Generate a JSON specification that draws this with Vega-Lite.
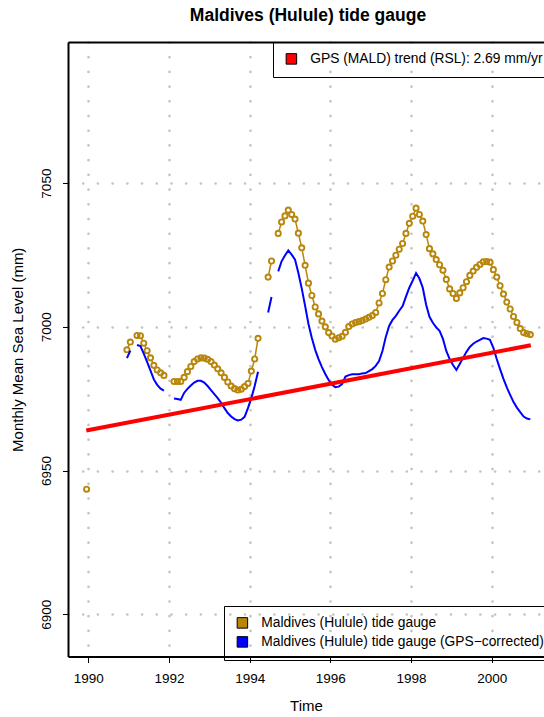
{
  "$schema": "https://vega.github.io/schema/vega-lite/v6.json",
  "width": 476,
  "height": 614.5,
  "autosize": {"type": "none"},
  "padding": {"left": 68, "top": 42, "right": 0, "bottom": 60.5},
  "background": "white",
  "title": {"text": "Maldives (Hulule) tide gauge", "font": "Liberation Sans", "fontSize": 17.5, "fontWeight": "bold", "color": "black", "anchor": "middle", "baseline": "alphabetic", "offset": 3, "dx": 2},
  "config": {
    "view": {"stroke": null},
    "axis": {"labelFont": "Liberation Sans", "titleFont": "Liberation Sans", "labelColor": "black", "titleColor": "black", "labelFontSize": 13.5, "titleFontSize": 15, "titleFontWeight": "normal", "domainColor": "black", "domainWidth": 2, "tickColor": "black", "tickWidth": 1, "gridColor": "#c4c4c4", "gridDash": [0.01, 14.7], "gridCap": "round", "gridWidth": 2.7, "labelOverlap": false, "labelFlush": false},
    "axisX": {"tickSize": 6, "labelPadding": 20.3, "labelBaseline": "alphabetic", "titleY": 53.5, "titleBaseline": "alphabetic"},
    "axisY": {"tickSize": 5.5, "labelAngle": 270, "labelAlign": "center", "labelBaseline": "alphabetic", "labelPadding": 12, "titleAngle": 270, "titleX": -45.5, "titleY": 307.25, "titleAlign": "center", "titleBaseline": "alphabetic"},
    "legend": {"orient": "none", "title": null, "symbolType": "square", "symbolSize": 110, "symbolStrokeColor": "black", "symbolStrokeWidth": 1, "symbolOffset": 1.5, "symbolOpacity": 1, "labelFont": "Liberation Sans", "labelFontSize": 13.8, "labelColor": "black", "labelOffset": 12, "padding": 10, "strokeColor": "black", "rowPadding": 3, "labelLimit": 500}
  },
  "datasets": {
    "ts": [
      {"t": 1989.958, "g": 6943.5, "b": null},
      {"t": 1990.458, "g": null, "b": null},
      {"t": 1990.958, "g": 6992.0, "b": 6989.1},
      {"t": 1991.042, "g": 6994.7, "b": 6991.7},
      {"t": 1991.125, "g": null, "b": null},
      {"t": 1991.208, "g": 6997.0, "b": 6993.7},
      {"t": 1991.292, "g": 6996.9, "b": 6993.3},
      {"t": 1991.375, "g": 6994.3, "b": 6990.7},
      {"t": 1991.458, "g": 6991.7, "b": 6987.8},
      {"t": 1991.542, "g": 6989.2, "b": 6984.8},
      {"t": 1991.625, "g": 6986.6, "b": 6981.7},
      {"t": 1991.708, "g": 6985.0, "b": 6979.8},
      {"t": 1991.792, "g": 6984.0, "b": 6978.5},
      {"t": 1991.875, "g": 6983.1, "b": 6977.8},
      {"t": 1991.958, "g": null, "b": null},
      {"t": 1992.042, "g": null, "b": null},
      {"t": 1992.125, "g": 6981.0, "b": 6975.1},
      {"t": 1992.208, "g": 6981.0, "b": 6974.9},
      {"t": 1992.292, "g": 6981.0, "b": 6974.6},
      {"t": 1992.375, "g": 6982.4, "b": 6977.0},
      {"t": 1992.458, "g": 6984.4, "b": 6978.4},
      {"t": 1992.542, "g": 6986.2, "b": 6979.6},
      {"t": 1992.625, "g": 6987.9, "b": 6980.6},
      {"t": 1992.708, "g": 6988.8, "b": 6981.2},
      {"t": 1992.792, "g": 6989.2, "b": 6981.2},
      {"t": 1992.875, "g": 6989.1, "b": 6980.6},
      {"t": 1992.958, "g": 6988.7, "b": 6979.4},
      {"t": 1993.042, "g": 6987.9, "b": 6978.0},
      {"t": 1993.125, "g": 6986.7, "b": 6976.6},
      {"t": 1993.208, "g": 6985.4, "b": 6975.2},
      {"t": 1993.292, "g": 6984.0, "b": 6973.6},
      {"t": 1993.375, "g": 6982.4, "b": 6971.7},
      {"t": 1993.458, "g": 6980.8, "b": 6970.0},
      {"t": 1993.542, "g": 6979.4, "b": 6968.8},
      {"t": 1993.625, "g": 6978.5, "b": 6967.9},
      {"t": 1993.708, "g": 6978.0, "b": 6967.4},
      {"t": 1993.792, "g": 6978.3, "b": 6967.7},
      {"t": 1993.875, "g": 6979.2, "b": 6968.7},
      {"t": 1993.958, "g": 6980.3, "b": 6971.7},
      {"t": 1994.042, "g": 6984.6, "b": 6975.2},
      {"t": 1994.125, "g": 6988.8, "b": 6979.4},
      {"t": 1994.208, "g": 6996.0, "b": 6984.4},
      {"t": 1994.292, "g": null, "b": null},
      {"t": 1994.375, "g": null, "b": null},
      {"t": 1994.458, "g": 7017.3, "b": 7005.0},
      {"t": 1994.542, "g": 7022.9, "b": 7010.4},
      {"t": 1994.625, "g": null, "b": null},
      {"t": 1994.708, "g": 7032.5, "b": 7019.3},
      {"t": 1994.792, "g": 7036.5, "b": 7022.8},
      {"t": 1994.875, "g": 7038.6, "b": 7024.8},
      {"t": 1994.958, "g": 7040.6, "b": 7026.6},
      {"t": 1995.042, "g": 7039.1, "b": 7025.1},
      {"t": 1995.125, "g": 7037.5, "b": 7023.4},
      {"t": 1995.208, "g": 7032.6, "b": 7018.7},
      {"t": 1995.292, "g": 7027.5, "b": 7013.3},
      {"t": 1995.375, "g": 7021.4, "b": 7007.3},
      {"t": 1995.458, "g": 7015.2, "b": 7001.0},
      {"t": 1995.542, "g": 7010.9, "b": 6996.1},
      {"t": 1995.625, "g": 7006.9, "b": 6992.0},
      {"t": 1995.708, "g": 7004.5, "b": 6988.8},
      {"t": 1995.792, "g": 7002.0, "b": 6986.0},
      {"t": 1995.875, "g": 7000.0, "b": 6983.6},
      {"t": 1995.958, "g": 6998.0, "b": 6981.5},
      {"t": 1996.042, "g": 6996.8, "b": 6979.8},
      {"t": 1996.125, "g": 6995.7, "b": 6979.0},
      {"t": 1996.208, "g": 6996.2, "b": 6979.2},
      {"t": 1996.292, "g": 6996.7, "b": 6980.1},
      {"t": 1996.375, "g": 6998.1, "b": 6982.7},
      {"t": 1996.458, "g": 7000.1, "b": 6983.2},
      {"t": 1996.542, "g": 7001.0, "b": 6983.5},
      {"t": 1996.625, "g": 7001.5, "b": 6983.5},
      {"t": 1996.708, "g": 7001.8, "b": 6983.5},
      {"t": 1996.792, "g": 7002.2, "b": 6983.8},
      {"t": 1996.875, "g": 7002.7, "b": 6983.9},
      {"t": 1996.958, "g": 7003.3, "b": 6984.6},
      {"t": 1997.042, "g": 7003.9, "b": 6985.3},
      {"t": 1997.125, "g": 7005.0, "b": 6986.4},
      {"t": 1997.208, "g": 7008.3, "b": 6988.1},
      {"t": 1997.292, "g": 7011.6, "b": 6991.6},
      {"t": 1997.375, "g": 7016.4, "b": 6996.5},
      {"t": 1997.458, "g": 7020.8, "b": 7000.3},
      {"t": 1997.542, "g": 7022.9, "b": 7002.4},
      {"t": 1997.625, "g": 7024.9, "b": 7003.8},
      {"t": 1997.708, "g": 7027.0, "b": 7005.6},
      {"t": 1997.792, "g": 7029.0, "b": 7007.2},
      {"t": 1997.875, "g": 7032.5, "b": 7010.5},
      {"t": 1997.958, "g": 7036.0, "b": 7013.6},
      {"t": 1998.042, "g": 7038.5, "b": 7016.1},
      {"t": 1998.125, "g": 7041.3, "b": 7018.7},
      {"t": 1998.208, "g": 7039.1, "b": 7016.8},
      {"t": 1998.292, "g": 7036.8, "b": 7013.6},
      {"t": 1998.375, "g": 7032.1, "b": 7007.7},
      {"t": 1998.458, "g": 7027.2, "b": 7003.5},
      {"t": 1998.542, "g": 7025.4, "b": 7001.4},
      {"t": 1998.625, "g": 7023.4, "b": 6999.8},
      {"t": 1998.708, "g": 7021.6, "b": 6998.6},
      {"t": 1998.792, "g": 7019.7, "b": 6995.8},
      {"t": 1998.875, "g": 7016.5, "b": 6991.6},
      {"t": 1998.958, "g": 7013.2, "b": 6988.8},
      {"t": 1999.042, "g": 7011.6, "b": 6986.7},
      {"t": 1999.125, "g": 7009.9, "b": 6985.0},
      {"t": 1999.208, "g": 7011.8, "b": 6987.1},
      {"t": 1999.292, "g": 7013.6, "b": 6989.2},
      {"t": 1999.375, "g": 7015.7, "b": 6991.3},
      {"t": 1999.458, "g": 7017.9, "b": 6993.0},
      {"t": 1999.542, "g": 7019.4, "b": 6994.1},
      {"t": 1999.625, "g": 7020.7, "b": 6994.9},
      {"t": 1999.708, "g": 7021.7, "b": 6995.5},
      {"t": 1999.792, "g": 7022.6, "b": 6996.1},
      {"t": 1999.875, "g": 7022.7, "b": 6995.9},
      {"t": 1999.958, "g": 7022.5, "b": 6995.5},
      {"t": 2000.042, "g": 7019.9, "b": 6992.7},
      {"t": 2000.125, "g": 7017.3, "b": 6988.8},
      {"t": 2000.208, "g": 7014.3, "b": 6985.3},
      {"t": 2000.292, "g": 7011.4, "b": 6981.9},
      {"t": 2000.375, "g": 7008.6, "b": 6978.9},
      {"t": 2000.458, "g": 7006.2, "b": 6976.3},
      {"t": 2000.542, "g": 7003.6, "b": 6973.8},
      {"t": 2000.625, "g": 7001.5, "b": 6971.9},
      {"t": 2000.708, "g": 6999.4, "b": 6970.3},
      {"t": 2000.792, "g": 6998.0, "b": 6968.8},
      {"t": 2000.875, "g": 6997.6, "b": 6968.1},
      {"t": 2000.958, "g": 6997.3, "b": 6967.8}
    ],
    "trend": [
      {"t": 1989.95, "r": 6963.9},
      {"t": 2000.97, "r": 6993.6}
    ],
    "keyLower": [
      {"s": "Maldives (Hulule) tide gauge"},
      {"s": "Maldives (Hulule) tide gauge (GPS−corrected)"}
    ],
    "keyUpper": [
      {"s": "GPS (MALD) trend (RSL): 2.69 mm/yr"}
    ]
  },
  "layer": [
    {
      "data": {"name": "ts"},
      "mark": {"type": "line", "color": "#B8860B", "strokeWidth": 1.5, "invalid": "break-paths-filter-domains", "clip": true},
      "encoding": {
        "x": {"field": "t", "type": "quantitative", "scale": {"domain": [1989.497, 2001.297], "nice": false, "zero": false}, "axis": {"orient": "bottom", "values": [1990, 1992, 1994, 1996, 1998, 2000], "format": "d", "grid": true, "title": "Time"}},
        "y": {"field": "g", "type": "quantitative", "scale": {"domain": [6885.3, 7099.1], "nice": false, "zero": false}, "axis": {"values": [6900, 6950, 7000, 7050], "format": "d", "grid": true}, "title": "Monthly Mean Sea Level (mm)"}
      }
    },
    {
      "data": {"name": "ts"},
      "mark": {"type": "point", "shape": "circle", "filled": true, "fill": "white", "strokeWidth": 0, "size": 30, "opacity": 1, "clip": true},
      "encoding": {
        "x": {"field": "t", "type": "quantitative", "scale": {"domain": [1989.497, 2001.297], "nice": false, "zero": false}, "axis": null},
        "y": {"field": "g", "type": "quantitative", "scale": {"domain": [6885.3, 7099.1], "nice": false, "zero": false}, "title": "Monthly Mean Sea Level (mm)"}
      }
    },
    {
      "data": {"name": "ts"},
      "mark": {"type": "point", "shape": "circle", "filled": false, "stroke": "#B8860B", "strokeWidth": 1.9, "size": 27, "opacity": 1, "clip": true},
      "encoding": {
        "x": {"field": "t", "type": "quantitative", "scale": {"domain": [1989.497, 2001.297], "nice": false, "zero": false}, "axis": null},
        "y": {"field": "g", "type": "quantitative", "scale": {"domain": [6885.3, 7099.1], "nice": false, "zero": false}, "title": "Monthly Mean Sea Level (mm)"}
      }
    },
    {
      "data": {"name": "ts"},
      "mark": {"type": "line", "color": "#0000FF", "strokeWidth": 2, "invalid": "break-paths-filter-domains", "clip": true},
      "encoding": {
        "x": {"field": "t", "type": "quantitative", "scale": {"domain": [1989.497, 2001.297], "nice": false, "zero": false}, "axis": null},
        "y": {"field": "b", "type": "quantitative", "scale": {"domain": [6885.3, 7099.1], "nice": false, "zero": false}, "title": "Monthly Mean Sea Level (mm)"}
      }
    },
    {
      "data": {"name": "trend"},
      "mark": {"type": "line", "color": "#FF0000", "strokeWidth": 4, "strokeCap": "butt", "clip": true},
      "encoding": {
        "x": {"field": "t", "type": "quantitative", "scale": {"domain": [1989.497, 2001.297], "nice": false, "zero": false}, "axis": {"orient": "top", "labels": false, "ticks": false, "grid": false, "title": null, "domain": true}},
        "y": {"field": "r", "type": "quantitative", "scale": {"domain": [6885.3, 7099.1], "nice": false, "zero": false}, "title": "Monthly Mean Sea Level (mm)"}
      }
    },
    {
      "data": {"name": "keyLower"},
      "transform": [{"filter": "false"}],
      "mark": {"type": "square", "opacity": 1},
      "encoding": {
        "fill": {"field": "s", "type": "nominal", "scale": {"domain": ["Maldives (Hulule) tide gauge", "Maldives (Hulule) tide gauge (GPS−corrected)"], "range": ["#B8860B", "#0000FF"]}, "legend": {"legendX": 156, "legendY": 564}}
      }
    },
    {
      "data": {"name": "keyUpper"},
      "transform": [{"filter": "false"}],
      "mark": {"type": "square", "opacity": 1},
      "encoding": {
        "fill": {"field": "s", "type": "nominal", "scale": {"domain": ["GPS (MALD) trend (RSL): 2.69 mm/yr"], "range": ["#FF0000"]}, "legend": {"legendX": 205, "legendY": 0}}
      }
    }
  ],
  "resolve": {"scale": {"fill": "independent"}, "legend": {"fill": "independent"}, "axis": {"x": "independent"}}
}
